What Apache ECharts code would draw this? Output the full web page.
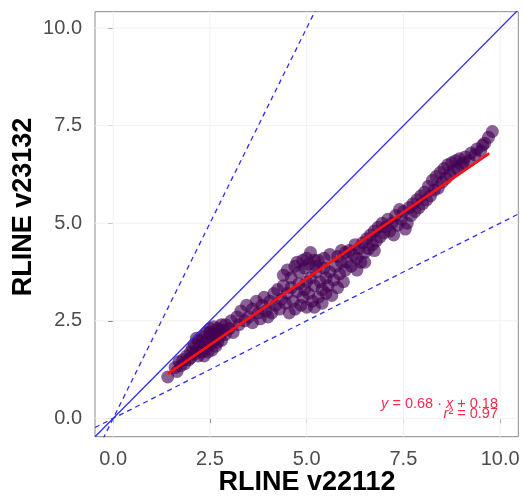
<!DOCTYPE html>
<html>
<head>
<meta charset="utf-8">
<script src="https://cdn.jsdelivr.net/npm/echarts@6/dist/echarts.min.js"></script>
<style>html,body{margin:0;padding:0;background:#fff;}#c{width:523px;height:499px;}</style>
</head>
<body>
<div id="c"></div>
<script>
// ---- data ----
const xLabelTitle = 'RLINE v22112';
const yLabelTitle = 'RLINE v23132';
const tickValues = [0, 2.5, 5, 7.5, 10];
const xRange = [-0.47, 10.47];
const yRange = [-0.47, 10.42];
const refSlopes = [1, 2, 0.5];
const fitSlope = 0.68;
const fitIntercept = 0.18;
const fitXRange = [1.41, 9.72];
const r2 = 0.97;
const pointsX = [
 1.41,1.6,1.65,1.7,1.75,1.8,1.85,1.9,1.95,2.0,2.0,
 2.05,2.1,2.1,2.15,2.2,2.2,2.25,2.3,2.3,2.35,2.4,2.4,2.45,2.5,2.5,2.55,2.55,2.6,2.6,2.65,2.7,2.7,2.75,2.8,2.8,2.85,2.9,2.9,2.35,2.45,2.65,2.15,2.5,2.75,
 3.0,3.05,3.1,3.2,3.25,3.3,3.4,3.45,3.5,3.6,3.6,3.7,3.75,3.8,3.85,3.9,3.95,4.0,
 4.4,4.5,4.6,4.7,4.75,4.8,4.9,4.95,5.0,5.05,5.1,5.2,5.25,
 4.05,4.1,4.15,4.2,4.25,4.3,4.35,4.4,4.45,4.5,4.55,4.6,4.65,4.7,4.75,4.8,4.85,4.9,4.95,5.0,5.0,
 5.05,5.1,5.15,5.2,5.25,5.3,5.35,5.4,5.45,5.5,5.5,5.55,5.6,5.65,5.7,5.75,5.8,5.85,5.9,5.95,6.0,5.3,5.45,5.6,5.8,5.9,6.0,5.2,5.4,
 6.05,6.1,6.15,6.2,6.25,6.3,6.35,6.4,6.45,6.5,6.55,6.6,6.65,6.7,6.75,6.8,6.85,6.9,6.95,7.0,6.3,6.5,6.75,
 7.05,7.1,7.15,7.2,7.3,7.35,7.4,7.45,7.5,7.6,7.65,7.7,7.75,7.8,7.85,7.9,7.95,8.0,7.25,7.55,
 8.05,8.1,8.15,8.2,8.25,8.3,8.35,8.4,8.45,8.5,8.55,8.6,8.65,8.7,8.75,8.8,8.85,8.9,8.95,9.0,
 9.05,9.1,9.2,9.25,9.35,9.4,9.5,9.55,9.6,9.7,9.8
];
const pointsY = [
 1.06,1.3,1.2,1.45,1.35,1.5,1.4,1.6,1.5,1.7,1.55,
 1.8,1.65,1.9,1.75,2.0,1.6,1.85,2.1,1.7,1.95,2.2,1.8,2.05,2.3,1.9,2.15,1.75,2.0,2.35,2.2,1.95,2.3,2.1,2.4,2.0,2.25,2.15,2.4,1.6,1.7,1.85,2.05,2.2,2.25,
 2.3,2.5,2.2,2.6,2.4,2.75,2.5,2.9,2.6,2.8,2.45,3.0,2.7,2.55,2.9,3.1,2.75,2.6,
 3.67,3.8,3.6,3.9,4.0,3.75,4.05,3.85,4.1,3.95,4.25,4.05,3.9,
 3.0,2.7,3.2,2.9,3.3,2.8,3.05,3.4,2.95,3.2,2.7,3.35,3.0,2.8,3.25,3.45,2.9,3.1,3.3,2.85,3.5,
 3.2,3.6,3.0,3.4,3.75,3.1,3.5,3.3,3.85,3.2,3.6,3.4,3.75,3.15,3.55,3.9,3.35,3.7,4.0,3.5,3.8,4.05,4.1,4.2,4.15,4.3,4.25,2.85,2.95,
 4.0,4.3,3.9,4.2,4.45,4.1,4.35,4.0,4.5,4.25,4.6,4.35,4.7,4.45,4.8,4.55,4.9,4.65,5.0,4.75,3.8,4.0,4.3,
 4.9,5.1,4.8,5.0,5.2,4.95,5.35,5.1,5.3,5.0,5.4,5.2,5.5,5.3,5.6,5.4,5.7,5.5,4.7,4.85,
 5.8,5.6,5.95,5.7,6.1,5.85,6.2,5.9,6.3,6.05,6.4,6.15,6.5,6.25,6.55,6.35,6.6,6.4,6.65,6.5,
 6.55,6.7,6.6,6.8,6.75,6.9,6.85,7.0,7.05,7.2,7.35
];

// ---- chart ----
const chart = echarts.init(document.getElementById('c'));
const FONT = 'Liberation Sans, Arial, sans-serif';
const pts = pointsX.map((x, i) => [x, pointsY[i]]);
const fmt = v => v.toFixed(1);
function refLine(s) {
  return [[xRange[0], s * xRange[0]], [xRange[1], s * xRange[1]]];
}
// grid lines as one broken line series (drawn beneath everything)
const gridLineData = [];
tickValues.forEach(v => {
  gridLineData.push([v, yRange[0]], [v, yRange[1]], ['-', '-']);
  gridLineData.push([xRange[0], v], [xRange[1], v], ['-', '-']);
});
const blue = '#2f2ff5';
const red = '#ff2a50';
const axisCommon = {
  type: 'value',
  axisLine: {show: false},
  splitLine: {show: false},
  axisTick: {show: true, customValues: tickValues, length: 5, lineStyle: {color: '#555', width: 1}},
  axisLabel: {customValues: tickValues, formatter: fmt, color: '#4d4d4d', fontSize: 20, fontFamily: FONT, margin: 13}
};
const option = {
  animation: false,
  backgroundColor: '#fff',
  grid: {left: 95, top: 11.7, right: 4.7, bottom: 62.3, containLabel: false, outerBoundsMode: 'none',
         show: true, borderColor: '#8a8a8a', borderWidth: 1, backgroundColor: 'transparent'},
  xAxis: Object.assign({}, axisCommon, {min: xRange[0], max: xRange[1]}),
  yAxis: Object.assign({}, axisCommon, {min: yRange[0], max: yRange[1]}),
  series: [
    {
      type: 'line', data: gridLineData, z: 0, silent: true, symbol: 'none', connectNulls: false,
      lineStyle: {color: '#f1f1f1', width: 1}
    },
    {
      type: 'scatter', data: pts, symbolSize: 13, z: 2,
      itemStyle: {color: 'rgba(68,1,84,0.78)'}
    },
    {
      type: 'line', data: refLine(refSlopes[0]), symbol: 'none', z: 3, clip: true,
      lineStyle: {color: blue, width: 1.3, type: 'solid'}
    },
    {
      type: 'line', data: refLine(refSlopes[1]), symbol: 'none', z: 3, clip: true,
      lineStyle: {color: blue, width: 1.3, type: [5, 4]}
    },
    {
      type: 'line', data: refLine(refSlopes[2]), symbol: 'none', z: 3, clip: true,
      lineStyle: {color: blue, width: 1.3, type: [5, 4]}
    },
    {
      type: 'line', data: fitXRange.map(x => [x, fitSlope * x + fitIntercept]), symbol: 'none', z: 4,
      lineStyle: {color: '#ff1010', width: 2.6}
    }
  ],
  graphic: [
    {
      type: 'text', x: 307, y: 483, z: 10,
      style: {text: xLabelTitle, fill: '#000', font: 'bold 27px ' + FONT, align: 'center', verticalAlign: 'middle'}
    },
    {
      type: 'text', x: 24, y: 207, rotation: Math.PI / 2, z: 10,
      style: {text: yLabelTitle, fill: '#000', font: 'bold 27px ' + FONT, align: 'center', verticalAlign: 'middle'}
    },
    {
      type: 'text', right: 25, top: 396, z: 10,
      style: {
        text: '{i|y} = ' + fitSlope.toFixed(2) + ' \u00b7 {i|x} + ' + fitIntercept.toFixed(2),
        rich: {i: {fontStyle: 'italic', fontSize: 14.5, fill: red, fontFamily: FONT}},
        fontSize: 14.5, fill: red, fontFamily: FONT, align: 'right'
      }
    },
    {
      type: 'text', right: 25, top: 406, z: 10,
      style: {
        text: '{i|r}\u00b2 = ' + r2.toFixed(2),
        rich: {i: {fontStyle: 'italic', fontSize: 14.5, fill: red, fontFamily: FONT}},
        fontSize: 14.5, fill: red, fontFamily: FONT, align: 'right'
      }
    }
  ]
};
chart.setOption(option);
</script>
</body>
</html>
